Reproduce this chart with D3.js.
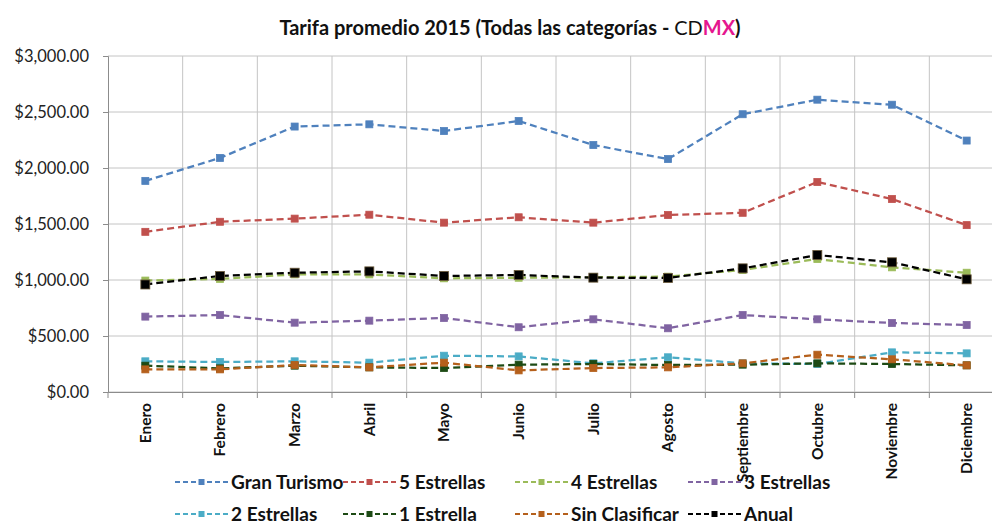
<!DOCTYPE html>
<html>
<head>
<meta charset="utf-8">
<script src="https://cdn.jsdelivr.net/npm/d3@7"></script>
<style>
  body { margin: 0; background: #fff; }
  svg { display: block; font-family: Lato, "Open Sans", sans-serif; }
</style>
</head>
<body>
<div id="chart"></div>
<script>
// months and monthly average rate per category
var months = ["Enero", "Febrero", "Marzo", "Abril", "Mayo", "Junio", "Julio", "Agosto", "Septiembre", "Octubre", "Noviembre", "Diciembre"];
var granTurismo = [1885, 2090, 2370, 2390, 2330, 2420, 2205, 2080, 2480, 2610, 2565, 2245];
var cincoEstrellas = [1430, 1520, 1548, 1583, 1512, 1560, 1512, 1580, 1600, 1875, 1723, 1490];
var cuatroEstrellas = [995, 1010, 1050, 1050, 1015, 1020, 1025, 1030, 1090, 1187, 1113, 1065];
var tresEstrellas = [673, 687, 619, 637, 661, 578, 649, 569, 687, 649, 616, 598];
var dosEstrellas = [274, 268, 274, 262, 324, 318, 256, 310, 256, 250, 354, 345];
var unaEstrella = [235, 211, 235, 220, 214, 244, 250, 241, 244, 256, 250, 238];
var sinClasificar = [202, 202, 241, 220, 262, 193, 214, 220, 256, 333, 292, 238];
var anual = [960, 1036, 1065, 1077, 1036, 1045, 1021, 1018, 1104, 1223, 1158, 1006];
var yTicks = [0, 500, 1000, 1500, 2000, 2500, 3000];

var seriesNames = ["Gran Turismo", "5 Estrellas", "4 Estrellas", "3 Estrellas", "2 Estrellas", "1 Estrella", "Sin Clasificar", "Anual"];
var seriesValues = [granTurismo, cincoEstrellas, cuatroEstrellas, tresEstrellas, dosEstrellas, unaEstrella, sinClasificar, anual];
var colors = ["#4f81bd", "#c0504d", "#9bbb59", "#8064a2", "#4bacc6", "#1d4a14", "#b5601c", "#000000"];

(function() {
  var series = seriesNames.map(function(n, i) {
    return { name: n, values: seriesValues[i], color: colors[i] };
  });

  var width = 992, height = 525;
  var plotLeft = 108, plotRight = 1004, plotTop = 56, plotBottom = 392;

  var svg = d3.select("#chart").append("svg")
      .attr("width", width)
      .attr("height", height);

  var x = d3.scaleBand().domain(months).range([plotLeft, plotRight]);
  var y = d3.scaleLinear().domain([0, 3000]).range([plotBottom, plotTop]);

  // gridlines
  svg.append("g")
    .selectAll("line")
      .data(yTicks)
    .enter().append("line")
      .attr("x1", plotLeft).attr("x2", plotRight)
      .attr("y1", function(d) { return y(d); })
      .attr("y2", function(d) { return y(d); })
      .attr("stroke", "#c4c4c4").attr("stroke-width", 1);

  svg.append("g")
    .selectAll("line")
      .data(months.slice(1))
    .enter().append("line")
      .attr("x1", function(d) { return x(d); })
      .attr("x2", function(d) { return x(d); })
      .attr("y1", plotTop).attr("y2", plotBottom)
      .attr("stroke", "#c4c4c4").attr("stroke-width", 1);

  // y axis
  var yAxis = svg.append("g")
      .attr("transform", "translate(" + plotLeft + ",0)")
      .call(d3.axisLeft(y).tickValues(yTicks).tickSize(5).tickPadding(14)
        .tickFormat(function(d) { return "$" + d3.format(",.2f")(d); }));
  yAxis.select(".domain").attr("stroke", "#8c8c8c");
  yAxis.selectAll(".tick line").attr("stroke", "#8c8c8c");
  yAxis.selectAll("text").attr("font-size", 16.5).attr("fill", "#222")
      .attr("font-family", "Lato, sans-serif");

  // x axis (ticks between categories)
  var xAxis = svg.append("g")
      .attr("transform", "translate(0," + plotBottom + ")")
      .call(d3.axisBottom(x).tickSize(0).tickSizeOuter(0));
  xAxis.select(".domain").attr("stroke", "#8c8c8c");
  xAxis.selectAll(".tick text")
      .attr("transform", "rotate(-90)")
      .attr("x", -11).attr("y", 0).attr("dy", "0.35em")
      .attr("text-anchor", "end")
      .attr("font-family", "Lato, sans-serif")
      .attr("font-size", 15.5).attr("font-weight", "bold").attr("fill", "#111");
  svg.append("g")
    .selectAll("line")
      .data(months)
    .enter().append("line")
      .attr("x1", function(d) { return x(d); })
      .attr("x2", function(d) { return x(d); })
      .attr("y1", plotBottom).attr("y2", plotBottom + 6)
      .attr("stroke", "#8c8c8c");

  // series lines and markers
  var line = d3.line()
      .x(function(d, i) { return x(months[i]) + x.bandwidth() / 2; })
      .y(function(d) { return y(d); });

  series.forEach(function(s) {
    var g = svg.append("g");
    g.append("path")
        .datum(s.values)
        .attr("d", line)
        .attr("fill", "none")
        .attr("stroke", s.color)
        .attr("stroke-width", 2.25)
        .attr("stroke-dasharray", "7,4");
    var m = s.name === "Anual" ? 9 : 7;
    g.selectAll("rect")
        .data(s.values)
      .enter().append("rect")
        .attr("x", function(d, i) { return x(months[i]) + x.bandwidth() / 2 - m / 2; })
        .attr("y", function(d) { return y(d) - m / 2; })
        .attr("width", m).attr("height", m)
        .attr("fill", s.color)
        .attr("stroke", s.name === "Anual" ? "#6b5a3a" : s.color)
        .attr("stroke-width", 0.8);
  });

  // title
  var title = svg.append("text")
      .attr("x", 510).attr("y", 35)
      .attr("text-anchor", "middle")
      .attr("font-size", 20).attr("font-weight", "bold").attr("fill", "#111");
  title.append("tspan").text("Tarifa promedio 2015 (Todas las categorías - ");
  title.append("tspan").attr("font-weight", "normal").text("CD");
  title.append("tspan").attr("fill", "#e5168f").text("MX");
  title.append("tspan").text(")");

  // legend
  var legendCols = [175, 343, 515, 688];
  var legendRows = [482, 514];
  var legend = svg.append("g")
    .selectAll("g")
      .data(series)
    .enter().append("g")
      .attr("transform", function(d, i) {
        return "translate(" + legendCols[i % 4] + "," + legendRows[Math.floor(i / 4)] + ")";
      });
  legend.append("line")
      .attr("x1", 0).attr("x2", 53).attr("y1", 0).attr("y2", 0)
      .attr("stroke", function(d) { return d.color; })
      .attr("stroke-width", 2)
      .attr("stroke-dasharray", "5,3");
  legend.append("rect")
      .attr("x", 23.5).attr("y", -3).attr("width", 6).attr("height", 6)
      .attr("fill", function(d) { return d.color; });
  legend.append("text")
      .attr("x", 56).attr("y", 0).attr("dy", "0.35em")
      .attr("font-size", 19).attr("font-weight", "bold").attr("fill", "#111")
      .text(function(d) { return d.name; });
})();
</script>
</body>
</html>
